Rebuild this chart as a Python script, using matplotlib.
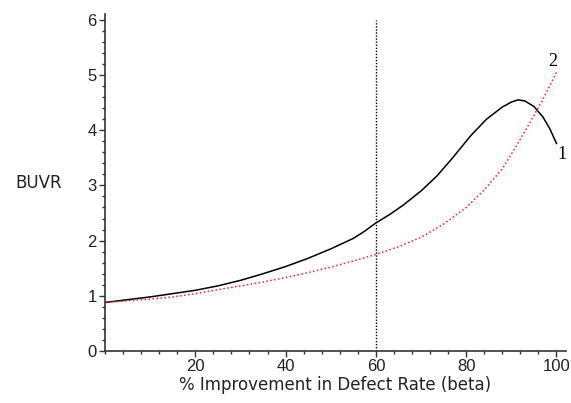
import matplotlib
matplotlib.use("Agg")
import matplotlib.pyplot as plt
from matplotlib.ticker import MultipleLocator

beta1 = [0, 5, 10, 15, 20, 25, 30, 35, 40, 45, 50, 55, 57.5, 60, 63, 66, 70, 73.5, 77, 81, 84.5, 88, 90, 91.5, 93, 95, 97, 98.5, 100]
buvr1 = [0.88, 0.93, 0.98, 1.04, 1.10, 1.18, 1.28, 1.40, 1.53, 1.68, 1.85, 2.04, 2.17, 2.32, 2.47, 2.64, 2.90, 3.17, 3.50, 3.90, 4.20, 4.42, 4.51, 4.55, 4.53, 4.43, 4.24, 4.03, 3.76]

beta2 = [0, 5, 10, 15, 20, 25, 30, 35, 40, 45, 50, 55, 60, 65, 70, 75, 80, 84, 88, 91, 94, 97, 100]
buvr2 = [0.88, 0.91, 0.94, 0.98, 1.04, 1.11, 1.18, 1.25, 1.33, 1.42, 1.52, 1.63, 1.75, 1.89, 2.06, 2.30, 2.60, 2.92, 3.30, 3.70, 4.12, 4.56, 5.05]

vline_x = 60
x_ticks = [20, 40, 60, 80, 100]
y_ticks = [0, 1, 2, 3, 4, 5, 6]
curve_labels = ["1", "2"]

plt.rcParams['font.family'] = ['Liberation Sans', 'DejaVu Sans']

fig = plt.figure(figsize=(5.71, 4.03), dpi=100)
ax = fig.add_axes([0.1839, 0.129, 0.8065, 0.8355])

ax.plot(beta1, buvr1, color='black', lw=1.1, solid_joinstyle='round')
ax.plot(beta2, buvr2, color='#ff2020', lw=1.1, linestyle=(0, (1, 1.6)))
ax.plot([vline_x, vline_x], [0, 6], color='black', lw=1.0, linestyle=(0, (1, 1.2)))

ax.set_xlim(0, 102)
ax.set_ylim(0, 6.1)

for s in ['top', 'right']:
    ax.spines[s].set_visible(False)
for s in ['left', 'bottom']:
    ax.spines[s].set_color('#333333')
    ax.spines[s].set_linewidth(1.2)

ax.set_xticks(x_ticks)
ax.set_yticks(y_ticks)
ax.xaxis.set_minor_locator(MultipleLocator(4))
ax.yaxis.set_minor_locator(MultipleLocator(0.2))
ax.tick_params(which='major', direction='out', length=4, width=1, color='#333333',
               labelsize=12, labelcolor='#222222', pad=2)
ax.tick_params(which='minor', direction='out', length=2.5, width=1, color='#333333')

ax.set_xlabel("% Improvement in Defect Rate (beta)", fontsize=12, color='#222222',
              labelpad=1, family='DejaVu Sans')
ax.set_ylabel("BUVR", fontsize=12, color='#222222', rotation=0, va='center', family='DejaVu Sans')
ax.yaxis.set_label_coords(-0.145, 0.5)

ax.text(beta1[-1] + 0.2, buvr1[-1] - 0.05, curve_labels[0], family='Liberation Serif', fontsize=13,
        ha='left', va='top')
ax.text(beta2[-1] - 0.8, buvr2[-1] + 0.05, curve_labels[1], family='Liberation Serif', fontsize=13,
        ha='center', va='bottom')

fig.savefig("out.png", dpi=100)
